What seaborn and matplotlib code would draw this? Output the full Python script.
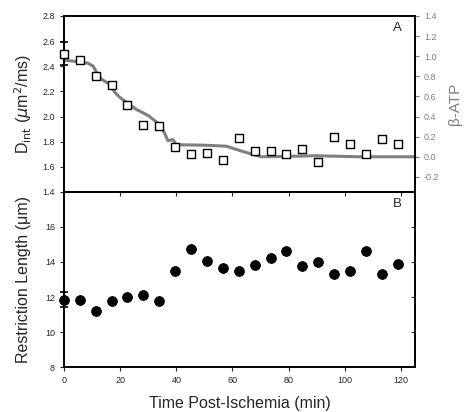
import matplotlib
matplotlib.use("Agg")
import matplotlib.pyplot as plt
import pandas as pd
import seaborn as sns

# Data
time = [0, 5.7, 11.5, 17.2, 22.6, 28.3, 34.0, 39.7, 45.2, 50.9, 56.6, 62.3,
        68.0, 73.6, 79.2, 84.8, 90.5, 96.2, 101.8, 107.5, 113.1, 118.8]
d_int = [2.50, 2.45, 2.32, 2.25, 2.09, 1.93, 1.925, 1.76, 1.70, 1.71, 1.655, 1.83,
         1.725, 1.725, 1.705, 1.74, 1.635, 1.835, 1.78, 1.70, 1.825, 1.78]
restriction = [11.85, 11.85, 11.2, 11.75, 12.0, 12.1, 11.8, 13.5, 14.75, 14.05, 13.65, 13.5,
               13.85, 14.25, 14.6, 13.75, 14.0, 13.3, 13.5, 14.65, 13.3, 13.9]

atp_time = [0, 3.5, 8.6, 10.4, 11.6, 13.4, 16.3, 18.1, 19.9, 22.3, 25.8, 30.0,
            34.1, 35.9, 37.0, 38.8, 40.0, 50.0, 57.8, 64.0, 70.2, 90.0, 105.0, 125.0]
atp = [0.96, 0.95, 0.93, 0.90, 0.84, 0.77, 0.72, 0.64, 0.59, 0.54, 0.47, 0.41,
       0.32, 0.23, 0.16, 0.17, 0.12, 0.115, 0.105, 0.05, 0.0, 0.01, 0.0, 0.0]

d_err = 0.09
r_err = 0.42

df_top = pd.DataFrame({"time": time, "d_int": d_int, "restriction": restriction})
df_atp = pd.DataFrame({"time": atp_time, "atp": atp})

sns.set_style("ticks")
plt.rcParams["font.family"] = ["Liberation Sans", "DejaVu Sans"]
plt.rcParams["axes.linewidth"] = 1.2

fig = plt.figure(figsize=(4.65, 4.12), dpi=100)
ax1 = fig.add_axes([0.1376, 0.534, 0.7549, 0.4274])
ax2 = fig.add_axes([0.1376, 0.1092, 0.7549, 0.4248])
gray = "#7f7f7f"

# Panel A: beta-ATP trace on right axis
ax1r = ax1.twinx()
sns.lineplot(data=df_atp, x="time", y="atp", ax=ax1r, color=gray, lw=2.2,
             zorder=1, clip_on=False)
ax1r.set_ylim(-0.35, 1.4)
ax1r.set_yticks([-0.2, 0.0, 0.2, 0.4, 0.6, 0.8, 1.0, 1.2, 1.4])
ax1r.set_yticklabels([f"{v:.1f}" for v in ax1r.get_yticks()])
ax1r.tick_params(axis="y", colors=gray, labelsize=6.5, length=3, width=0.8)
ax1r.set_ylabel("β-ATP", color=gray, fontsize=11, labelpad=6)
ax1r.set_xlim(0, 125)

ax1.set_zorder(ax1r.get_zorder() + 1)
ax1.patch.set_visible(False)
sns.scatterplot(data=df_top, x="time", y="d_int", ax=ax1, marker="s", s=30,
                facecolor="white", edgecolor="black", linewidth=1.0, zorder=3, clip_on=False)
ax1.errorbar([0], [d_int[0]], yerr=d_err, fmt="none", ecolor="black", elinewidth=1.2,
             capsize=3, capthick=1.2, clip_on=False, zorder=2)
ax1.set_xlim(0, 125)
ax1.set_ylim(1.4, 2.8)
ax1.set_yticks([1.4, 1.6, 1.8, 2.0, 2.2, 2.4, 2.6, 2.8])
ax1.set_yticklabels([f"{v:.1f}" for v in ax1.get_yticks()])
ax1.set_xticks([20, 40, 60, 80, 100, 120])
ax1.tick_params(axis="x", labelbottom=False, length=3, width=0.8, direction="out")
ax1.tick_params(axis="y", labelsize=6.5, length=3, width=0.8)
ax1.set_xlabel("")
ax1.set_ylabel(r"D$_{\rm int}$ ($\mu$m$^2$/ms)", fontsize=11.5, labelpad=6)
ax1.text(0.963, 0.93, "A", transform=ax1.transAxes, ha="right", va="center", fontsize=9.5)

# Panel B: restriction length
ax2r = ax2.twinx()
ax2r.set_ylim(8, 18)
ax2r.set_yticks([10, 12, 14, 16])
ax2r.tick_params(axis="y", direction="in", length=3, width=0.8, labelright=False)

ax2.set_zorder(ax2r.get_zorder() + 1)
ax2.patch.set_visible(False)
sns.scatterplot(data=df_top, x="time", y="restriction", ax=ax2, marker="o", s=50,
                color="black", edgecolor="black", zorder=3, clip_on=False)
ax2.errorbar([0], [restriction[0]], yerr=r_err, fmt="none", ecolor="black", elinewidth=1.2,
             capsize=3, capthick=1.2, clip_on=False, zorder=2)
ax2.set_xlim(0, 125)
ax2.set_ylim(8, 18)
ax2.set_yticks([8, 10, 12, 14, 16])
ax2.set_xticks([0, 20, 40, 60, 80, 100, 120])
ax2.tick_params(axis="both", labelsize=6.5, length=3, width=0.8)
ax2.set_xlabel("Time Post-Ischemia (min)", fontsize=11.5, labelpad=8)
ax2.set_ylabel("Restriction Length (μm)", fontsize=11.5, labelpad=10)
ax2.text(0.963, 0.93, "B", transform=ax2.transAxes, ha="right", va="center", fontsize=9.5)

for a in (ax1, ax1r, ax2, ax2r):
    for s in a.spines.values():
        s.set_linewidth(1.2)
        s.set_color("black")

fig.savefig("out.png", dpi=100)
